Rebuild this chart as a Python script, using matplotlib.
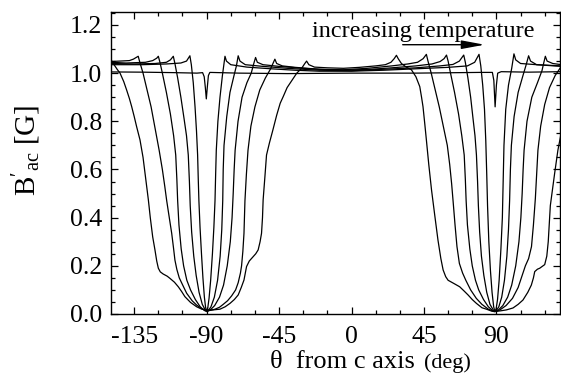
import matplotlib
matplotlib.use("Agg")
import matplotlib.pyplot as plt
from matplotlib.ticker import MultipleLocator

plt.rcParams['font.family'] = 'Liberation Serif'
plt.rcParams['mathtext.fontset'] = 'custom'
plt.rcParams['mathtext.rm'] = 'Liberation Serif'
plt.rcParams['mathtext.it'] = 'Liberation Serif:italic'
plt.rcParams['axes.unicode_minus'] = False

# (angle in deg, B'ac in G), lowest temperature first
curve_1 = [(-150, 1.042), (-148.8, 1.05), (-147.5, 1.035), (-145.5, 1.015), (-143.8, 1.0),
           (-141.5, 0.965), (-139.7, 0.93), (-138, 0.895), (-136.6, 0.862), (-135, 0.82),
           (-133.5, 0.778), (-131.4, 0.723), (-129.5, 0.65), (-128, 0.57), (-126.2, 0.474),
           (-125, 0.4), (-123.5, 0.32), (-122.1, 0.266), (-121, 0.22), (-120, 0.19),
           (-118.8, 0.175), (-117, 0.166), (-114.5, 0.157), (-112.8, 0.148), (-110, 0.132),
           (-107.6, 0.113), (-105.5, 0.093), (-103.5, 0.072), (-100, 0.048), (-96.2, 0.03),
           (-93, 0.02), (-90, 0.017), (-86, 0.017), (-81.7, 0.02), (-78.5, 0.03),
           (-75.5, 0.044), (-72.8, 0.06), (-70.4, 0.079), (-68.5, 0.11), (-66.8, 0.141),
           (-65.2, 0.197), (-63.5, 0.22), (-61.1, 0.238), (-59.5, 0.25), (-58, 0.266),
           (-56.8, 0.3), (-55.9, 0.335), (-55.3, 0.4), (-54.9, 0.474), (-53.8, 0.57),
           (-52.8, 0.66), (-51, 0.71), (-49, 0.76), (-46.5, 0.825), (-44.3, 0.875),
           (-42.4, 0.903), (-40, 0.94), (-37, 0.97), (-34, 1.0), (-31, 1.02),
           (-29, 1.04), (-27.9, 1.05), (-26.5, 1.035), (-23, 1.025), (-15, 1.022),
           (-5, 1.02), (5, 1.024), (15, 1.03), (21, 1.035), (24.5, 1.045),
           (26.5, 1.06), (27.9, 1.074), (29, 1.06), (31, 1.04), (34, 1.025),
           (37.2, 1.014), (40, 0.985), (42.4, 0.944), (43.5, 0.9), (44.4, 0.861),
           (45.5, 0.79), (46.5, 0.723), (48, 0.62), (49.7, 0.515), (51.7, 0.41),
           (53.7, 0.307), (55.5, 0.23), (56.9, 0.183), (58.5, 0.155), (60, 0.14),
           (63.5, 0.127), (67.2, 0.113), (70, 0.095), (72.4, 0.079), (75, 0.06),
           (77.6, 0.044), (81, 0.026), (83.8, 0.02), (87, 0.012), (89, 0.01),
           (92.5, 0.013), (96.2, 0.017), (100.3, 0.025), (103.5, 0.04), (106.5, 0.058),
           (109.5, 0.09), (111.7, 0.12), (113, 0.15), (113.8, 0.176), (115.5, 0.186),
           (116.9, 0.19), (120, 0.205), (121.3, 0.24), (122.2, 0.3), (123.5, 0.45),
           (125.3, 0.54), (126.2, 0.585), (128.2, 0.68), (130.5, 0.76)]

curve_2 = [(-150, 1.048), (-144, 1.05), (-138, 1.052), (-135.5, 1.058), (-133.5, 1.066),
           (-132.5, 1.07), (-131.5, 1.045), (-129.5, 1.0), (-127, 0.93), (-124.5, 0.86),
           (-122, 0.77), (-119.5, 0.68), (-117.5, 0.6), (-116, 0.53), (-114.8, 0.47),
           (-113.2, 0.4), (-111.7, 0.335), (-110.5, 0.27), (-109.7, 0.224), (-108.5, 0.185),
           (-107, 0.15), (-104.5, 0.115), (-102.4, 0.086), (-99, 0.055), (-96.2, 0.037),
           (-93, 0.022), (-90.6, 0.015), (-87.5, 0.015), (-84.8, 0.02), (-82, 0.028),
           (-79.7, 0.04), (-77, 0.055), (-74.5, 0.075), (-72, 0.1), (-70.4, 0.13),
           (-69, 0.17), (-68.3, 0.2), (-67.5, 0.26), (-66.8, 0.335), (-66.2, 0.47),
           (-65.3, 0.58), (-64.3, 0.68), (-62.5, 0.78), (-60, 0.86), (-57, 0.93),
           (-53.5, 0.98), (-50.5, 1.015), (-48.8, 1.04), (-47.6, 1.058), (-46.5, 1.04),
           (-43, 1.03), (-35, 1.024), (-20, 1.016), (-5, 1.014), (10, 1.02),
           (25, 1.03), (35, 1.038), (41, 1.045), (44.5, 1.06), (46.5, 1.078),
           (47.5, 1.05), (49.5, 1.0), (52, 0.93), (54.5, 0.86), (57, 0.78),
           (59.5, 0.7), (61, 0.62), (62.2, 0.54), (63.2, 0.46), (64.3, 0.37),
           (65.5, 0.28), (67, 0.21), (69, 0.17), (71, 0.14), (74, 0.1),
           (77.5, 0.065), (81, 0.04), (85, 0.02), (88.5, 0.01), (92, 0.016),
           (96, 0.035), (100, 0.065), (103.5, 0.11), (106, 0.16), (108, 0.2),
           (110, 0.23), (111.8, 0.28), (113, 0.37), (114.2, 0.48), (115, 0.58),
           (115.8, 0.68), (117.5, 0.78), (120, 0.87), (123, 0.94), (126.5, 0.99),
           (130.5, 1.03)]

curve_3 = [(-150, 1.045), (-140, 1.042), (-128, 1.045), (-123.5, 1.052), (-121, 1.062),
           (-120, 1.07), (-119, 1.045), (-117.5, 1.0), (-115, 0.92), (-112.5, 0.83),
           (-110.5, 0.74), (-109.2, 0.66), (-108.5, 0.56), (-108, 0.47), (-107.2, 0.37),
           (-105.8, 0.27), (-104.3, 0.2), (-102.3, 0.14), (-100, 0.1), (-97, 0.06),
           (-94, 0.03), (-91.5, 0.015), (-90, 0.01), (-88, 0.015), (-85, 0.035),
           (-82, 0.07), (-79.5, 0.12), (-77.2, 0.2), (-75.3, 0.3), (-74.2, 0.4),
           (-73.5, 0.5), (-72.9, 0.6), (-72.3, 0.68), (-70.5, 0.8), (-68, 0.9),
           (-65, 0.96), (-62.3, 1.0), (-60.7, 1.04), (-59.6, 1.065), (-58.5, 1.045),
           (-55, 1.035), (-45, 1.028), (-30, 1.02), (-10, 1.012), (10, 1.015),
           (25, 1.022), (40, 1.03), (50, 1.038), (55, 1.048), (57.5, 1.06),
           (59, 1.075), (60, 1.05), (61.5, 1.0), (64, 0.92), (66.5, 0.83),
           (68.5, 0.74), (70, 0.66), (70.7, 0.56), (71.2, 0.47), (72, 0.37),
           (73.5, 0.27), (75, 0.2), (77, 0.14), (79, 0.1), (82, 0.06),
           (85, 0.03), (87.5, 0.015), (89, 0.01), (91, 0.015), (94, 0.035),
           (97, 0.07), (99.5, 0.12), (102, 0.2), (104, 0.3), (105.2, 0.4),
           (106, 0.5), (106.6, 0.6), (107.2, 0.68), (109, 0.8), (112, 0.9),
           (115.5, 0.96), (118.3, 1.01), (119.5, 1.045), (120.4, 1.07), (121.5, 1.05),
           (125, 1.04), (130.5, 1.035)]

curve_4 = [(-150, 1.04), (-135, 1.038), (-122, 1.04), (-115, 1.045), (-112.5, 1.055),
           (-110.7, 1.07), (-109.7, 1.04), (-108, 0.98), (-106, 0.9), (-104, 0.81),
           (-102.5, 0.74), (-101.4, 0.66), (-100.7, 0.55), (-100.2, 0.45), (-99.3, 0.34),
           (-98, 0.24), (-96.5, 0.16), (-94.7, 0.09), (-92.7, 0.04), (-90.7, 0.015),
           (-89.2, 0.012), (-87.3, 0.03), (-85.2, 0.07), (-83.2, 0.14), (-81.6, 0.24),
           (-80.6, 0.35), (-80, 0.47), (-79.7, 0.6), (-79.2, 0.7), (-77.5, 0.82),
           (-75.5, 0.92), (-73, 0.99), (-71.5, 1.03), (-70.4, 1.072), (-69.3, 1.05),
           (-66, 1.035), (-55, 1.028), (-40, 1.02), (-20, 1.012), (0, 1.01),
           (20, 1.016), (40, 1.022), (55, 1.03), (63, 1.036), (67, 1.05),
           (69.7, 1.075), (70.7, 1.045), (72.3, 0.98), (74, 0.9), (75.5, 0.81),
           (76.7, 0.74), (77.6, 0.66), (78.3, 0.55), (78.8, 0.45), (79.6, 0.34),
           (80.7, 0.24), (82.2, 0.16), (84, 0.09), (86, 0.04), (88.2, 0.015),
           (89.8, 0.012), (91.5, 0.03), (93.3, 0.07), (95, 0.14), (96.5, 0.24),
           (97.5, 0.35), (98.2, 0.47), (98.7, 0.6), (99.3, 0.7), (101, 0.82),
           (103.5, 0.92), (106.5, 0.99), (108.5, 1.035), (110, 1.072), (111.2, 1.05),
           (115, 1.035), (130.5, 1.028)]

curve_5 = [(-150, 1.035), (-130, 1.035), (-115, 1.038), (-106, 1.042), (-102.5, 1.05),
           (-100.4, 1.072), (-99.5, 1.035), (-98.3, 0.96), (-97.2, 0.86), (-96.3, 0.76),
           (-95.6, 0.66), (-95.2, 0.56), (-94.8, 0.47), (-94.1, 0.36), (-93.2, 0.25),
           (-92.3, 0.15), (-91.4, 0.07), (-90.6, 0.025), (-90, 0.012), (-89.3, 0.025),
           (-88.5, 0.065), (-87.5, 0.14), (-86.4, 0.25), (-85.5, 0.36), (-84.8, 0.47),
           (-84.4, 0.58), (-84, 0.68), (-83, 0.8), (-81.7, 0.9), (-80.2, 0.99),
           (-79.2, 1.04), (-78.6, 1.07), (-77.7, 1.05), (-75, 1.035), (-65, 1.025),
           (-50, 1.018), (-35, 1.012), (-20, 1.008), (0, 1.008), (20, 1.012),
           (40, 1.018), (60, 1.024), (72, 1.03), (76.5, 1.045), (79.2, 1.078),
           (80.3, 1.03), (81.5, 0.95), (82.6, 0.85), (83.4, 0.72), (84, 0.58),
           (84.5, 0.45), (85.3, 0.3), (86.3, 0.18), (87.3, 0.09), (88.3, 0.03),
           (89, 0.012), (89.8, 0.02), (90.7, 0.06), (91.7, 0.14), (92.8, 0.27),
           (93.7, 0.4), (94.2, 0.55), (94.7, 0.7), (95.8, 0.85), (97.5, 0.95),
           (99.5, 1.02), (100.9, 1.08), (102, 1.055), (105, 1.04), (115, 1.035),
           (130.5, 1.03)]

# highest temperature: nearly flat with a narrow dip at the ab plane
curve_6 = [(-150, 1.005), (-130, 1.004), (-110, 1.002), (-96, 1.0), (-92.5, 1.002),
           (-91.5, 0.985), (-90.8, 0.94), (-90.2, 0.893), (-89.6, 0.94), (-88.9, 0.99),
           (-88, 1.003), (-70, 1.0), (-40, 0.998), (0, 1.0), (40, 1.0),
           (80, 1.003), (87.5, 1.003), (88.4, 0.97), (89.2, 0.86), (90, 0.95),
           (90.8, 1.0), (93, 1.006), (110, 1.004), (130.5, 1.006)]

curves = [curve_1, curve_2, curve_3, curve_4, curve_5, curve_6]

x_ticks = [-135, -90, -45, 0, 45, 90]
y_ticks = [0.0, 0.2, 0.4, 0.6, 0.8, 1.0, 1.2]

fig = plt.figure(figsize=(5.61, 3.80), dpi=100)
ax = fig.add_axes([0.1973, 0.1737, 0.8009, 0.7955])

for c in curves:
    xs = [p[0] for p in c]
    ys = [p[1] for p in c]
    ax.plot(xs, ys, color='black', lw=0.9)

ax.set_xlim(-149.6, 129.5)
ax.set_ylim(0, 1.255)
ax.set_xticks(x_ticks)
ax.set_xticklabels([str(t) for t in x_ticks])
ax.set_yticks(y_ticks)
ax.set_yticklabels(['%.1f' % t for t in y_ticks])
ax.xaxis.set_minor_locator(MultipleLocator(15))
ax.yaxis.set_minor_locator(MultipleLocator(0.05))
ax.tick_params(which='both', direction='in', top=True, right=True, width=0.9)
ax.tick_params(which='major', length=5)
ax.tick_params(which='minor', length=3)
ax.tick_params(axis='x', which='major', labelsize=18.5, pad=9)
ax.tick_params(axis='y', which='major', labelsize=18.5, pad=6)
for s in ax.spines.values():
    s.set_linewidth(1.0)

ax.set_ylabel(r"$\mathrm{B}'_{\mathrm{ac}}$ [G]", fontsize=21)
ax.yaxis.set_label_coords(-0.15, 0.54)

fig.text(270 / 561, 1 - 368 / 380, "\u03b8  from c axis", fontsize=19, ha='left', va='baseline')
fig.text(424 / 561, 1 - 368 / 380, "(deg)", fontsize=16, ha='left', va='baseline')

ax.text(44.3, 1.152, "increasing temperature", fontsize=17.5, ha='center', va='baseline')
ax.annotate("", xy=(82.7, 1.118), xytext=(31.8, 1.118),
            arrowprops=dict(arrowstyle='-|>,head_length=0.7,head_width=0.13',
                            color='black', lw=1.0, mutation_scale=20, shrinkA=0, shrinkB=0))

fig.savefig("out.png", dpi=100)
